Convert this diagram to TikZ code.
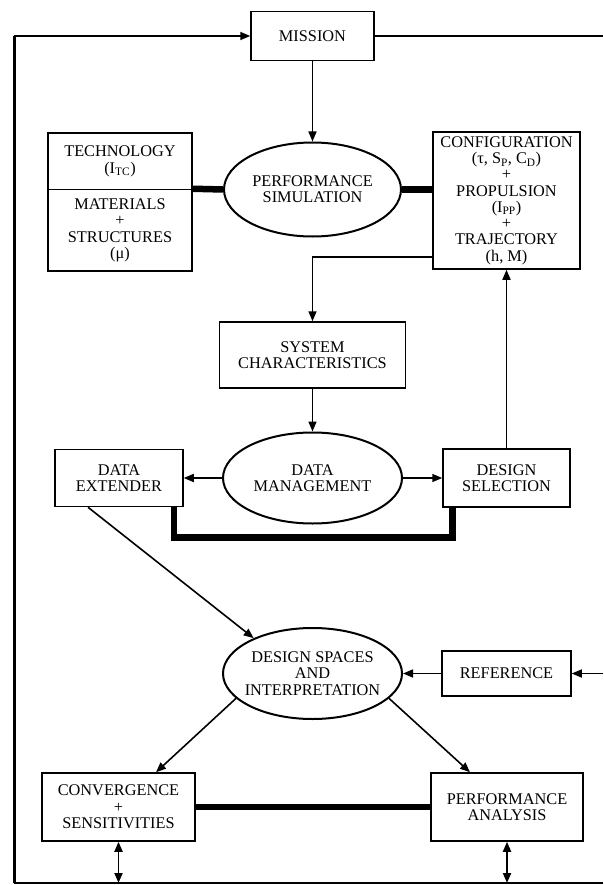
\documentclass[tikz,border=0pt]{standalone}
\usepackage{fontspec}
\setmainfont{Liberation Serif}
\usepackage{tikz}
\usetikzlibrary{positioning, arrows.meta, shapes.geometric}

\begin{document}
\begin{tikzpicture}[
  x=1pt, y=-1pt,
  font=\fontsize{16.3}{16.3}\selectfont,
  >={Triangle[length=10pt, width=8pt]},
  blk/.style={draw, line width=1.5pt, align=center, inner sep=0pt},
  oval/.style={draw, ellipse, line width=2pt, align=center, inner xsep=-12pt, inner ysep=0pt,
    minimum width=179pt, minimum height=91pt},
  flow/.style={line width=1.6pt, ->},
  thickbar/.style={line width=6.5pt},
  rim/.style={line width=1.6pt},
]
\useasboundingbox (0,0) rectangle (603,885);

% Top row
\node[blk, minimum width=123pt, minimum height=49pt] (mission) at (312.5,36) {MISSION};

\node[blk, minimum width=144pt, minimum height=56.5pt] (tech) at (120,161.25) {TECHNOLOGY\\(I\textsubscript{TC})};
\node[blk, minimum width=144pt, minimum height=81.5pt] (mat) at (120,230.25) {MATERIALS\\+\\STRUCTURES\\(μ)};
\node[oval, minimum width=177pt, minimum height=94pt] (perfsim) at (312.5,189.5) {PERFORMANCE\\SIMULATION};
\node[blk, minimum width=147pt, minimum height=137pt] (config) at (506.5,200.5)
  {CONFIGURATION\\(τ, S\textsubscript{P}, C\textsubscript{D})\\+\\PROPULSION\\(I\textsubscript{PP})\\+\\TRAJECTORY\\(h, M)};

% Middle
\node[blk, minimum width=186pt, minimum height=66pt] (syschar) at (312.5,355) {SYSTEM\\CHARACTERISTICS};
\node[oval] (datamgmt) at (312.5,478) {DATA\\MANAGEMENT};
\node[blk, minimum width=128pt, minimum height=57pt] (dataext) at (119,478) {DATA\\EXTENDER};
\node[blk, minimum width=127pt, minimum height=58pt] (dessel) at (506.5,478) {DESIGN\\SELECTION};

% Bottom
\node[oval] (despace) at (312.5,673.5) {DESIGN SPACES\\AND\\INTERPRETATION};
\node[blk, minimum width=129pt, minimum height=45pt] (reference) at (506.5,673.5) {REFERENCE};
\node[blk, minimum width=153pt, minimum height=68pt] (converg) at (118.5,807) {CONVERGENCE\\+\\SENSITIVITIES};
\node[blk, minimum width=152pt, minimum height=68pt] (perfan) at (507,807) {PERFORMANCE\\ANALYSIS};

% Outer loop
\coordinate (loopTL) at (14,36);
\coordinate (loopBL) at (14,883);
\coordinate (loopBR) at (603,883);
\coordinate (exitR) at (603,36);
\coordinate (refin) at (603,673.5);
\coordinate (convbase) at (118.5,883);
\coordinate (perfbase) at (507,883);

\draw[rim] (loopBR) -- (loopBL);
\draw[line width=3pt] (loopBL) -- (loopTL);
\draw[flow] (loopTL) -- (mission);
\draw[rim] (mission.east) -- (exitR);

% Connectors
\draw[flow] (mission) -- (perfsim);
\draw[thickbar] (mat.north east) -- (perfsim.west);
\draw[thickbar] (perfsim.east) -- (perfsim.east -| config.west);
\draw[flow] ([yshift=-56.5pt]config.west) -| (syschar.north);
\draw[flow] (syschar) -- (datamgmt);
\draw[flow] (datamgmt) -- (dataext);
\draw[flow] (datamgmt) -- (dessel);
\draw[flow] (dessel) -- (config);
\draw[thickbar] ([xshift=-10pt]dataext.south east) -- ++(0,30) -| ([xshift=10pt]dessel.south west);

\draw[flow] ([xshift=-31pt]dataext.south) -- (despace.149);
\draw[flow] (refin) -- (reference);
\draw[flow] (reference) -- (despace);
\draw[flow] (despace.198) -- ([xshift=37.5pt]converg.north);
\draw[flow] (despace.342) -- ([xshift=-37pt]perfan.north);
\draw[thickbar] (converg) -- (perfan);

\draw[flow, <->, line width=1.9pt] (converg) -- (convbase);
\draw[flow, <->, line width=1.9pt] (perfan) -- (perfbase);

\end{tikzpicture}
\end{document}
